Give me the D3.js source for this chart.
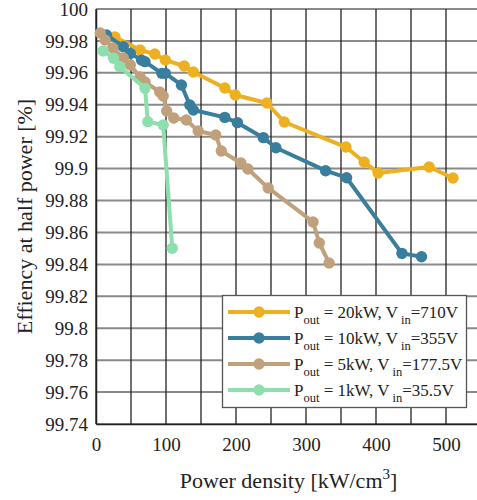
<!DOCTYPE html>
<html>
<head>
<meta charset="utf-8">
<script src="https://cdn.jsdelivr.net/npm/d3@7"></script>
<style>
  html, body { margin: 0; padding: 0; background: #fff; }
  svg { display: block; }
  text { font-family: "Liberation Serif", "Times New Roman", serif; fill: #222; }
</style>
</head>
<body>
<svg id="chart" width="477" height="500"></svg>
<script>
// ---------- data ----------
const seriesNames = ["20kW", "10kW", "5kW", "1kW"];
const seriesVin = ["710V", "355V", "177.5V", "35.5V"];
const seriesColors = ["#EDB021", "#3A7E9E", "#C1A07C", "#8EDFAE"];

const x20 = [27, 63, 84, 99, 126, 139, 184, 199, 244, 269, 357, 383, 403, 476, 510];
const y20 = [99.9825, 99.9743, 99.9718, 99.9680, 99.9643, 99.9605, 99.9505, 99.9461, 99.9411, 99.9292, 99.9135, 99.9041, 99.8973, 99.9010, 99.8941];

const x10 = [15, 39, 49, 65, 70, 94, 99, 122, 134, 139, 184, 202, 239, 257, 328, 358, 437, 465];
const y10 = [99.9837, 99.9764, 99.9722, 99.9680, 99.9670, 99.9597, 99.9597, 99.9524, 99.9399, 99.9367, 99.9321, 99.9288, 99.9194, 99.9131, 99.8987, 99.8943, 99.8469, 99.8448];

const x5 = [6, 13, 24, 39, 49, 63, 70, 91, 96, 101, 111, 129, 146, 171, 179, 207, 217, 246, 310, 319, 333];
const y5 = [99.9850, 99.9806, 99.9756, 99.9693, 99.9649, 99.9574, 99.9543, 99.9480, 99.9455, 99.9361, 99.9317, 99.9305, 99.9236, 99.9211, 99.9110, 99.9035, 99.8998, 99.8879, 99.8666, 99.8534, 99.8409];

const x1 = [10, 25, 34, 70, 74, 96, 109];
const y1 = [99.9737, 99.9691, 99.9639, 99.9503, 99.9294, 99.9273, 99.8501];

const xTickLabels = [0, 100, 200, 300, 400, 500];
const yTickLabels = [99.74, 99.76, 99.78, 99.8, 99.82, 99.84, 99.86, 99.88, 99.9, 99.92, 99.94, 99.96, 99.98, 100];
const xGrid = d3.range(0, 551, 50);

const xsAll = [x20, x10, x5, x1];
const ysAll = [y20, y10, y5, y1];

// ---------- layout ----------
const svg = d3.select("#chart");
const L = 96, R = 481, T = 9, B = 424;

const x = d3.scaleLinear().domain([0, 550]).range([L, R]);
const y = d3.scaleLinear().domain([99.74, 100]).range([B, T]);

// grid
const g = svg.append("g");
g.selectAll("line.hg").data(yTickLabels).join("line")
  .attr("x1", L).attr("x2", R)
  .attr("y1", d => y(d)).attr("y2", d => y(d))
  .attr("stroke", "#8a8a8a").attr("stroke-width", 2);
g.selectAll("line.vg").data(xGrid).join("line")
  .attr("x1", d => x(d)).attr("x2", d => x(d))
  .attr("y1", T).attr("y2", B)
  .attr("stroke", "#222").attr("stroke-width", 1.3);

// axes
const yAxis = d3.axisLeft(y).tickValues(yTickLabels).tickSize(0).tickPadding(8)
  .tickFormat(d => d3.format("")(+d.toFixed(2)));
const gy = svg.append("g").attr("transform", `translate(${L},0)`).call(yAxis);
gy.select(".domain").attr("stroke", "#222").attr("stroke-width", 1.5);
gy.selectAll("text").style("font-size", "19px").style("font-family", "Liberation Serif").attr("fill", "#222");

const xAxis = d3.axisBottom(x).tickValues(xTickLabels).tickSize(0).tickPadding(14);
const gx = svg.append("g").attr("transform", `translate(0,${B})`).call(xAxis);
gx.select(".domain").attr("stroke", "#222").attr("stroke-width", 1.5);
gx.selectAll("text").style("font-size", "19px").style("font-family", "Liberation Serif").attr("fill", "#222");

// series
const line = d3.line().x(d => x(d[0])).y(d => y(d[1]));
xsAll.forEach((xs, i) => {
  const pts = xs.map((v, j) => [v, ysAll[i][j]]);
  const sg = svg.append("g");
  sg.append("path").datum(pts).attr("d", line)
    .attr("fill", "none").attr("stroke", seriesColors[i]).attr("stroke-width", 4)
    .attr("stroke-linejoin", "round");
  sg.selectAll("circle").data(pts).join("circle")
    .attr("cx", d => x(d[0])).attr("cy", d => y(d[1])).attr("r", 5.7)
    .attr("fill", seriesColors[i]);
});

// axis titles
svg.append("text").attr("x", (L + R) / 2).attr("y", 488).attr("text-anchor", "middle")
  .style("font-size", "22px").text("Power density [kW/cm")
  .append("tspan").attr("dy", -9).style("font-size", "15px").text("3")
  .select(function(){ return this.parentNode; })
  .append("tspan").attr("dy", 9).text("]");

svg.append("text").attr("transform", `translate(32,${(T + B) / 2}) rotate(-90)`)
  .attr("text-anchor", "middle").style("font-size", "22px").text("Effiency at half power [%]");

// legend
const lg = svg.append("g");
lg.append("rect").attr("x", 222.5).attr("y", 295.5).attr("width", 244).attr("height", 112)
  .attr("fill", "#fff").attr("stroke", "#555").attr("stroke-width", 1.3);
const rowY = [312, 338, 364, 390];
seriesNames.forEach((nm, i) => {
  const ry = rowY[i];
  lg.append("line").attr("x1", 228).attr("x2", 290).attr("y1", ry).attr("y2", ry)
    .attr("stroke", seriesColors[i]).attr("stroke-width", 4);
  lg.append("circle").attr("cx", 259).attr("cy", ry).attr("r", 5.7).attr("fill", seriesColors[i]);
  const t = lg.append("text").attr("x", 294).attr("y", ry + 6).style("font-size", "17px");
  t.append("tspan").text("P");
  t.append("tspan").attr("dy", 6).style("font-size", "12.5px").text("out");
  t.append("tspan").attr("dy", -6).text(` = ${nm}, V`);
  t.append("tspan").attr("dy", 6).attr("dx", 3).style("font-size", "12.5px").text("in");
  t.append("tspan").attr("dy", -6).text(`=${seriesVin[i]}`);
});
</script>
</body>
</html>
